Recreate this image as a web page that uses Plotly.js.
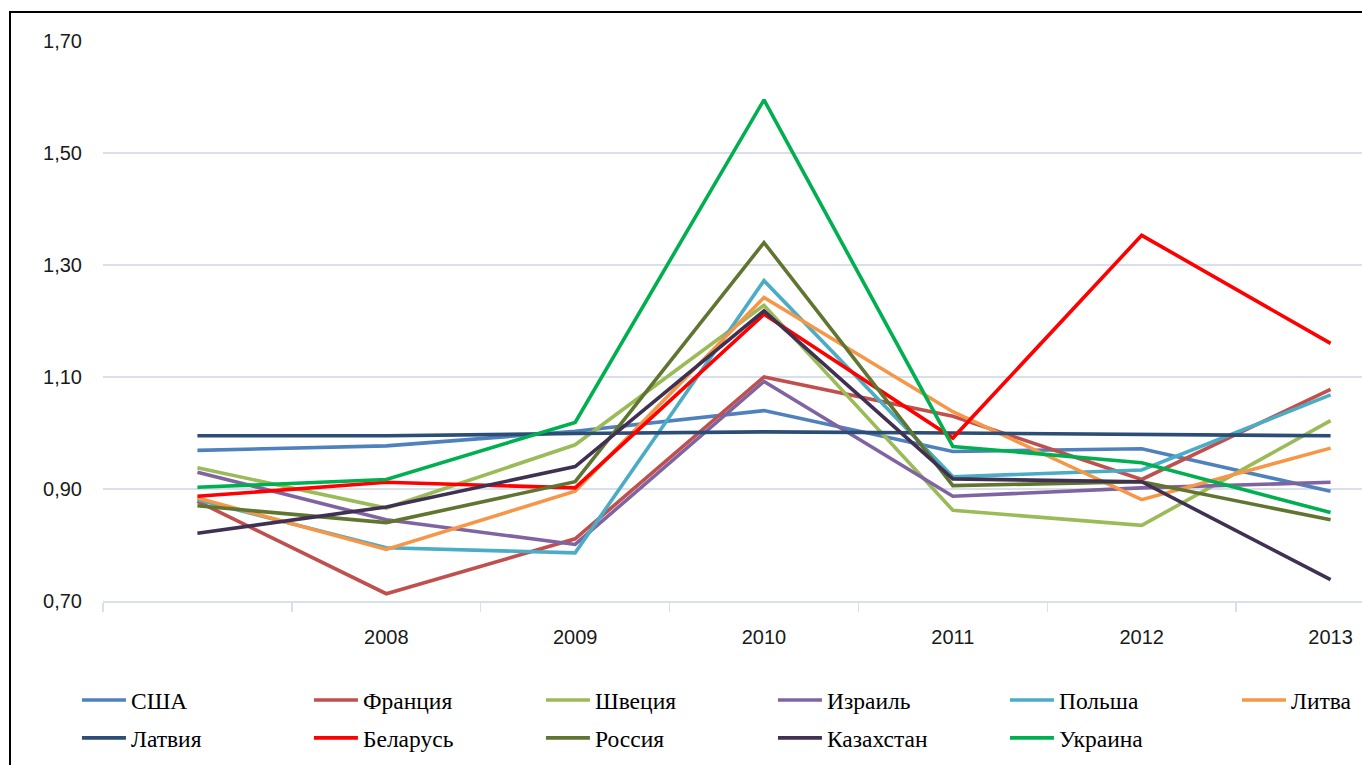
<!DOCTYPE html>
<html>
<head>
<meta charset="utf-8">
<script src="https://cdn.plot.ly/plotly-3.0.1.min.js"></script>
<style>
  html, body { margin: 0; padding: 0; background: #ffffff; overflow: hidden; width: 1362px; height: 765px; }
  #chart { position: absolute; left: 0; top: 0; width: 1430px; height: 765px; }
  #frame { position: absolute; left: 9px; top: 11px; width: 1500px; height: 1000px; border: 2px solid #000; pointer-events: none; }
</style>
</head>
<body>
<div id="chart"></div>
<div id="frame"></div>
<script>
// Category tick labels (first category has no label in the source)
const categories = ['', '2008', '2009', '2010', '2011', '2012', '2013'];

const seriesNames = ['США', 'Франция', 'Швеция', 'Израиль', 'Польша', 'Литва',
                     'Латвия', 'Беларусь', 'Россия', 'Казахстан', 'Украина'];

const usa        = [0.969, 0.977, 1.003, 1.040, 0.967, 0.972, 0.896];
const france     = [0.878, 0.713, 0.811, 1.100, 1.030, 0.917, 1.078];
const sweden     = [0.938, 0.866, 0.979, 1.228, 0.862, 0.835, 1.022];
const israel     = [0.930, 0.845, 0.801, 1.092, 0.887, 0.902, 0.912];
const poland     = [0.881, 0.795, 0.786, 1.272, 0.922, 0.934, 1.068];
const lithuania  = [0.884, 0.792, 0.896, 1.242, 1.038, 0.881, 0.973];
const latvia     = [0.995, 0.995, 0.999, 1.002, 1.000, 0.997, 0.995];
const belarus    = [0.887, 0.912, 0.902, 1.212, 0.991, 1.353, 1.160];
const russia     = [0.870, 0.840, 0.913, 1.340, 0.906, 0.913, 0.845];
const kazakhstan = [0.821, 0.868, 0.940, 1.218, 0.918, 0.913, 0.738];
const ukraine    = [0.903, 0.917, 1.019, 1.595, 0.976, 0.947, 0.858];

const seriesValues = [usa, france, sweden, israel, poland, lithuania,
                      latvia, belarus, russia, kazakhstan, ukraine];

const colors = ['#4F81BD', '#C0504D', '#9BBB59', '#8064A2', '#4BACC6', '#F79646',
                '#2C4D75', '#FF0000', '#5F7530', '#403152', '#00B050'];

const xIdx = categories.map((c, i) => i);

const traces = seriesNames.map((name, i) => ({
  type: 'scatter',
  mode: 'lines',
  name: name,
  x: xIdx,
  y: seriesValues[i],
  line: { color: colors[i], width: 3.6 },
  legend: i < 6 ? 'legend' : 'legend2',
  hoverinfo: 'skip'
}));

const gridColor = '#d9e0ea';
const serifFont = 'Liberation Serif';
const sansFont = 'Liberation Sans';

function legendSpec(yPos) {
  return {
    orientation: 'h',
    xanchor: 'left',
    yanchor: 'top',
    x: -0.0197,
    y: yPos,
    itemwidth: 44,
    entrywidth: 173,
    entrywidthmode: 'pixels',
    font: { family: serifFont, size: 23.5, color: '#000000' },
    bgcolor: 'rgba(0,0,0,0)',
    borderwidth: 0,
    itemclick: false,
    itemdoubleclick: false
  };
}

const layout = {
  width: 1430,
  height: 765,
  paper_bgcolor: '#ffffff',
  plot_bgcolor: '#ffffff',
  separators: ', ',
  margin: { l: 103, r: 5.4, t: 40.5, b: 163.5, autoexpand: false },
  font: { family: serifFont, size: 22, color: '#000000' },
  xaxis: {
    range: [-0.5, 6.5],
    tickmode: 'array',
    tickvals: xIdx,
    ticktext: categories,
    ticks: '',
    showgrid: false,
    zeroline: false,
    showline: true,
    linecolor: gridColor,
    linewidth: 1.5,
    ticklabelstandoff: 17,
    tickfont: { family: sansFont, size: 20, color: '#1a1a1a' },
    minor: { tickmode: 'linear', tick0: 0.5, dtick: 1, ticks: 'outside', ticklen: 9, tickwidth: 1.5, tickcolor: gridColor, showgrid: false },
    fixedrange: true
  },
  yaxis: {
    range: [0.7, 1.7],
    tickmode: 'linear',
    tick0: 0.7,
    dtick: 0.2,
    tickformat: '.2f',
    ticks: '',
    showgrid: true,
    gridcolor: gridColor,
    gridwidth: 1.5,
    zeroline: false,
    showline: false,
    ticklabelstandoff: 20,
    tickfont: { family: sansFont, size: 20, color: '#1a1a1a' },
    fixedrange: true
  },
  showlegend: true,
  legend: legendSpec(-0.138),
  legend2: legendSpec(-0.2055)
};

Plotly.newPlot('chart', traces, layout, { displayModeBar: false, staticPlot: true });
</script>
</body>
</html>
